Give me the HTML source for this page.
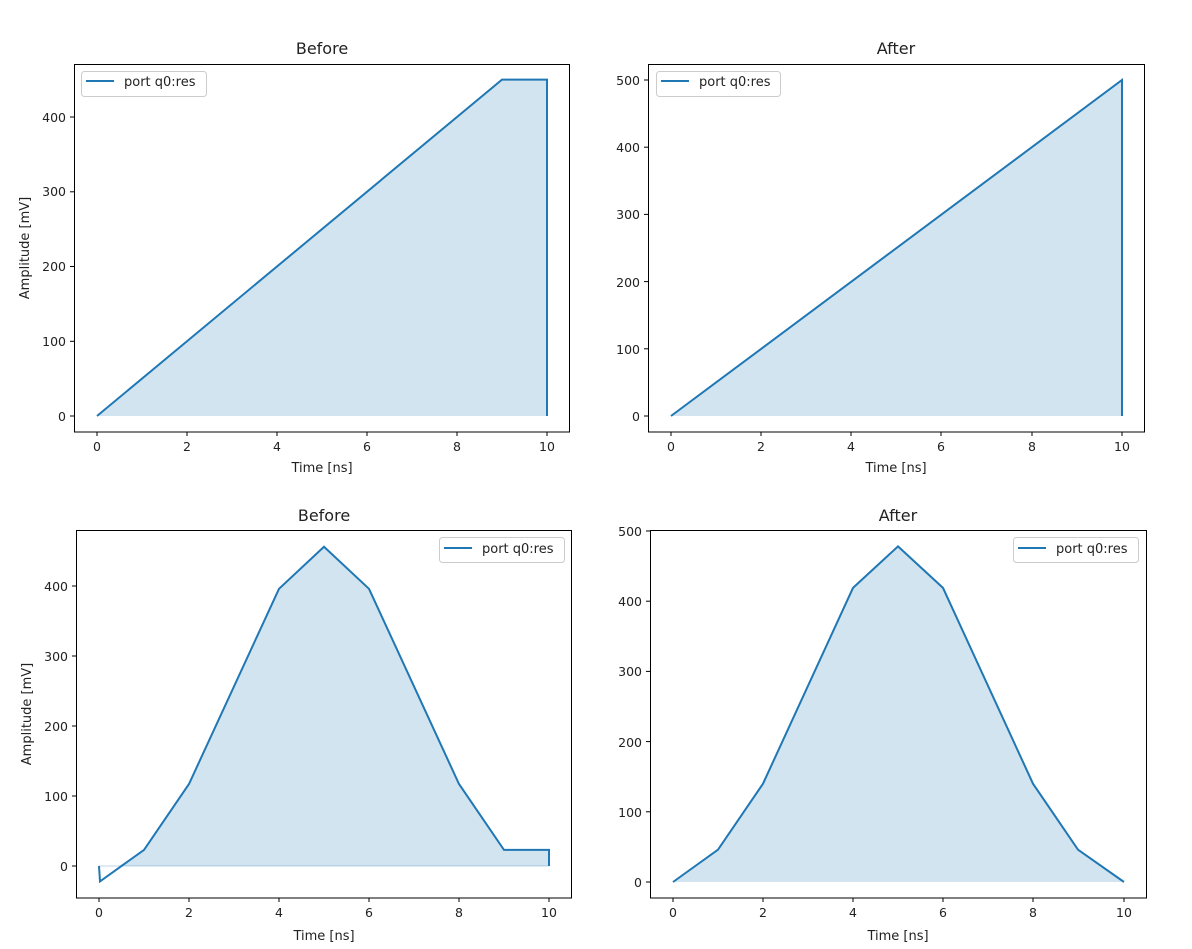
<!DOCTYPE html><html><head><style>body{margin:0;background:#fff}svg{display:block}text{font-family:"DejaVu Sans","Liberation Sans",sans-serif;fill:#222}.l{font-size:13px}</style></head><body>
<svg width="1192" height="949" viewBox="0 0 1192 949" xmlns="http://www.w3.org/2000/svg">
<g font-size="12.5">
<polygon points="97,416 502,79.6 547,79.6 547,416" fill="#1f77b4" fill-opacity="0.2"/>
<polyline points="97,416 502,79.6 547,79.6 547,416" fill="none" stroke="#1f77b4" stroke-width="2"/>
<rect x="74.5" y="64.5" width="495" height="367.5" fill="none" stroke="#000" stroke-width="1"/>
<text x="322" y="54" font-size="16" text-anchor="middle">Before</text>
<g text-anchor="middle"><text x="97" y="451">0</text><text x="187" y="451">2</text><text x="277" y="451">4</text><text x="367" y="451">6</text><text x="457" y="451">8</text><text x="547" y="451">10</text></g>
<g stroke="#000"><line x1="97" y1="432" x2="97" y2="436"/><line x1="187" y1="432" x2="187" y2="436"/><line x1="277" y1="432" x2="277" y2="436"/><line x1="367" y1="432" x2="367" y2="436"/><line x1="457" y1="432" x2="457" y2="436"/><line x1="547" y1="432" x2="547" y2="436"/>
<line x1="70" y1="416" x2="74.5" y2="416"/><line x1="70" y1="341.3" x2="74.5" y2="341.3"/><line x1="70" y1="266.5" x2="74.5" y2="266.5"/><line x1="70" y1="191.8" x2="74.5" y2="191.8"/><line x1="70" y1="117" x2="74.5" y2="117"/></g>
<g text-anchor="end"><text x="66" y="421">0</text><text x="66" y="346">100</text><text x="66" y="271">200</text><text x="66" y="196">300</text><text x="66" y="122">400</text></g>
<text class="l" x="322" y="472" text-anchor="middle">Time [ns]</text>
<text class="l" transform="translate(29,248) rotate(-90)" text-anchor="middle">Amplitude [mV]</text>
<rect x="81.5" y="71.5" width="125" height="25" rx="3" fill="#fff" stroke="#ccc"/>
<line x1="86" y1="81" x2="114" y2="81" stroke="#1f77b4" stroke-width="2"/><text class="l" x="124" y="86">port q0:res</text>
<polygon points="671,416 1122,80 1122,416" fill="#1f77b4" fill-opacity="0.2"/>
<polyline points="671,416 1122,80 1122,416" fill="none" stroke="#1f77b4" stroke-width="2"/>
<rect x="648.5" y="64.5" width="496" height="367.5" fill="none" stroke="#000"/>
<text x="896" y="54" font-size="16" text-anchor="middle">After</text>
<g text-anchor="middle"><text x="671" y="451">0</text><text x="761" y="451">2</text><text x="851" y="451">4</text><text x="941" y="451">6</text><text x="1032" y="451">8</text><text x="1122" y="451">10</text></g>
<g stroke="#000"><line x1="671" y1="432" x2="671" y2="436"/><line x1="761" y1="432" x2="761" y2="436"/><line x1="851" y1="432" x2="851" y2="436"/><line x1="941" y1="432" x2="941" y2="436"/><line x1="1032" y1="432" x2="1032" y2="436"/><line x1="1122" y1="432" x2="1122" y2="436"/>
<line x1="644" y1="416" x2="648.5" y2="416"/><line x1="644" y1="348.8" x2="648.5" y2="348.8"/><line x1="644" y1="281.6" x2="648.5" y2="281.6"/><line x1="644" y1="214.4" x2="648.5" y2="214.4"/><line x1="644" y1="147.2" x2="648.5" y2="147.2"/><line x1="644" y1="80" x2="648.5" y2="80"/></g>
<g text-anchor="end"><text x="640" y="421">0</text><text x="640" y="354">100</text><text x="640" y="287">200</text><text x="640" y="219">300</text><text x="640" y="152">400</text><text x="640" y="85">500</text></g>
<text class="l" x="896" y="472" text-anchor="middle">Time [ns]</text>
<rect x="656.5" y="71.5" width="124" height="25" rx="3" fill="#fff" stroke="#ccc"/>
<line x1="661" y1="81" x2="689" y2="81" stroke="#1f77b4" stroke-width="2"/><text class="l" x="699" y="86">port q0:res</text>
<polygon points="99,866 119,866 144,849.9 189,784 279,588.8 324,546.8 369,588.8 459,784 504,849.9 549,849.9 549,866" fill="#1f77b4" fill-opacity="0.2"/>
<line x1="99" y1="866" x2="549" y2="866" stroke="#1f77b4" stroke-opacity="0.2" stroke-width="1.5"/>
<polyline points="99,866 100,881.4 144,849.9 189,784 279,588.8 324,546.8 369,588.8 459,784 504,849.9 549,849.9 549,866" fill="none" stroke="#1f77b4" stroke-width="2"/>
<rect x="76.5" y="530.5" width="495" height="367.5" fill="none" stroke="#000"/>
<text x="324" y="521" font-size="16" text-anchor="middle">Before</text>
<g text-anchor="middle"><text x="99" y="917">0</text><text x="189" y="917">2</text><text x="279" y="917">4</text><text x="369" y="917">6</text><text x="459" y="917">8</text><text x="549" y="917">10</text></g>
<g stroke="#000"><line x1="99" y1="898" x2="99" y2="902"/><line x1="189" y1="898" x2="189" y2="902"/><line x1="279" y1="898" x2="279" y2="902"/><line x1="369" y1="898" x2="369" y2="902"/><line x1="459" y1="898" x2="459" y2="902"/><line x1="549" y1="898" x2="549" y2="902"/>
<line x1="72" y1="866" x2="76.5" y2="866"/><line x1="72" y1="796" x2="76.5" y2="796"/><line x1="72" y1="726" x2="76.5" y2="726"/><line x1="72" y1="656" x2="76.5" y2="656"/><line x1="72" y1="586" x2="76.5" y2="586"/></g>
<g text-anchor="end"><text x="68" y="871">0</text><text x="68" y="801">100</text><text x="68" y="731">200</text><text x="68" y="661">300</text><text x="68" y="591">400</text></g>
<text class="l" x="324" y="940" text-anchor="middle">Time [ns]</text>
<text class="l" transform="translate(31,714) rotate(-90)" text-anchor="middle">Amplitude [mV]</text>
<rect x="439.5" y="537.5" width="125" height="25" rx="3" fill="#fff" stroke="#ccc"/>
<line x1="444" y1="548" x2="472" y2="548" stroke="#1f77b4" stroke-width="2"/><text class="l" x="482" y="553">port q0:res</text>
<polygon points="673,882 718,849.7 763,783.7 853,587.9 898,546.4 943,587.9 1033,783.7 1078,849.7 1124,882" fill="#1f77b4" fill-opacity="0.2"/>
<polyline points="673,882 718,849.7 763,783.7 853,587.9 898,546.4 943,587.9 1033,783.7 1078,849.7 1124,882" fill="none" stroke="#1f77b4" stroke-width="2"/>
<rect x="650.5" y="530.5" width="496" height="367.5" fill="none" stroke="#000"/>
<text x="898" y="521" font-size="16" text-anchor="middle">After</text>
<g text-anchor="middle"><text x="673" y="917">0</text><text x="763" y="917">2</text><text x="853" y="917">4</text><text x="943" y="917">6</text><text x="1033" y="917">8</text><text x="1124" y="917">10</text></g>
<g stroke="#000"><line x1="673" y1="898" x2="673" y2="902"/><line x1="763" y1="898" x2="763" y2="902"/><line x1="853" y1="898" x2="853" y2="902"/><line x1="943" y1="898" x2="943" y2="902"/><line x1="1033" y1="898" x2="1033" y2="902"/><line x1="1124" y1="898" x2="1124" y2="902"/>
<line x1="646" y1="882" x2="650.5" y2="882"/><line x1="646" y1="811.8" x2="650.5" y2="811.8"/><line x1="646" y1="741.6" x2="650.5" y2="741.6"/><line x1="646" y1="671.4" x2="650.5" y2="671.4"/><line x1="646" y1="601.2" x2="650.5" y2="601.2"/><line x1="646" y1="531" x2="650.5" y2="531"/></g>
<g text-anchor="end"><text x="642" y="887">0</text><text x="642" y="817">100</text><text x="642" y="747">200</text><text x="642" y="676">300</text><text x="642" y="606">400</text><text x="642" y="536">500</text></g>
<text class="l" x="898" y="940" text-anchor="middle">Time [ns]</text>
<rect x="1013.5" y="537.5" width="125" height="25" rx="3" fill="#fff" stroke="#ccc"/>
<line x1="1018" y1="548" x2="1046" y2="548" stroke="#1f77b4" stroke-width="2"/><text class="l" x="1056" y="553">port q0:res</text>
</g></svg></body></html>
